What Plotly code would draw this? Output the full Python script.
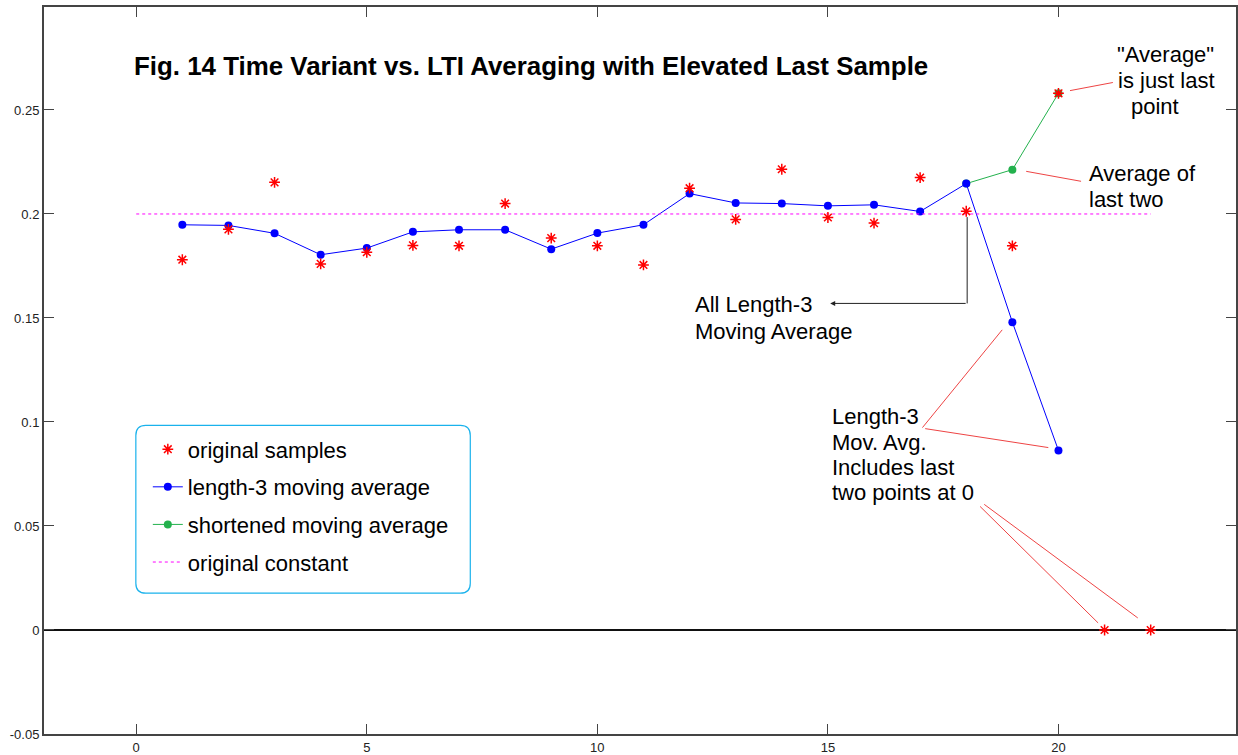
import plotly.graph_objects as go

# ---- data ----
sample_n = list(range(1, 23))
samples = [0.178, 0.1926, 0.2152, 0.176, 0.1816, 0.1849, 0.1847, 0.205, 0.1884,
           0.1847, 0.1755, 0.2124, 0.1974, 0.2215, 0.1983, 0.1956, 0.2175, 0.2013,
           0.1847, 0.258, 0.0, 0.0]

ma_n = list(range(1, 21))
ma3 = [0.1948, 0.1945, 0.1907, 0.1804, 0.1836, 0.1914, 0.1924, 0.1924, 0.1831,
       0.1908, 0.1948, 0.2098, 0.2053, 0.205, 0.2039, 0.2044, 0.2012, 0.2146,
       0.148, 0.0863]

short_n = [18, 19, 20]
short_ma = [0.2146, 0.2213, 0.258]

const_x = [0, 22]
const_y = [0.2, 0.2]

x_ticks = [0, 5, 10, 15, 20]
y_ticks = [-0.05, 0, 0.05, 0.1, 0.15, 0.2, 0.25]
y_ticklabels = ["-0.05", "0", "0.05", "0.1", "0.15", "0.2", "0.25"]

FONT = "Liberation Sans, Arial, sans-serif"
AX = "#444444"
LEAD = "#ee4444"

W, H = 1238, 755
L, R, T, B = 44, 0, 7, 20
XR = [-2, 23.85]
YR = [-0.05, 0.2995]
pw, ph = W - L - R, H - T - B


def dx(xp):  # pixel -> data x
    return XR[0] + (xp - L) / pw * (XR[1] - XR[0])


def dy(yp):  # pixel -> data y
    return YR[1] - (yp - T) / ph * (YR[1] - YR[0])


def px(xp):  # pixel -> paper x
    return (xp - L) / pw


def py(yp):  # pixel -> paper y
    return 1 - (yp - T) / ph


fig = go.Figure()

fig.add_trace(go.Scatter(
    x=short_n, y=short_ma, mode="lines+markers", name="shortened moving average",
    line=dict(color="#23b14d", width=1), marker=dict(color="#23b14d", size=8),
    legendrank=3, legendgroup="g3"))
fig.add_trace(go.Scatter(
    x=ma_n, y=ma3, mode="lines+markers", name="length-3 moving average",
    line=dict(color="#0000ff", width=1), marker=dict(color="#0000ff", size=8),
    legendrank=2, legendgroup="g2"))
fig.add_trace(go.Scatter(
    x=const_x, y=const_y, mode="lines", name="original constant",
    line=dict(color="#ff00ff", width=1, dash="3px,3px"),
    legendrank=4, legendgroup="g4"))
fig.add_trace(go.Scatter(
    x=sample_n, y=samples, mode="markers", name="original samples",
    marker=dict(symbol="asterisk-open", color="#ff0000", size=9,
                line=dict(color="#ff0000", width=1.5)),
    legendrank=1, legendgroup="g1"))

shapes = []
# leader lines (data coords)
for (x0, y0, x1, y1) in [
    (21.18, 0.2632, 20.25, 0.2593),
    (20.49, 0.2157, 19.30, 0.2205),
    (17.05, 0.0973, 18.78, 0.1443),
    (17.11, 0.0968, 19.78, 0.0877),
    (18.30, 0.0594, 20.86, 0.0034),
    (18.39, 0.0604, 21.72, 0.0058),
]:
    shapes.append(dict(type="line", xref="x", yref="y", x0=x0, y0=y0, x1=x1, y1=y1,
                       line=dict(color=LEAD, width=1)))
# black elbow connector (vertical part)
shapes.append(dict(type="line", xref="x", yref="y", x0=18.02, y0=0.1985, x1=18.02, y1=0.157,
                   line=dict(color="#222222", width=1)))
# rounded legend frame
x0, x1, y0, y1, r = 136, 471, 426, 594, 10
path = (f"M {px(x0+r)},{py(y0)} L {px(x1-r)},{py(y0)} "
        f"Q {px(x1)},{py(y0)} {px(x1)},{py(y0+r)} L {px(x1)},{py(y1-r)} "
        f"Q {px(x1)},{py(y1)} {px(x1-r)},{py(y1)} L {px(x0+r)},{py(y1)} "
        f"Q {px(x0)},{py(y1)} {px(x0)},{py(y1-r)} L {px(x0)},{py(y0+r)} "
        f"Q {px(x0)},{py(y0)} {px(x0+r)},{py(y0)} Z")
shapes.append(dict(type="path", xref="paper", yref="paper", path=path,
                   line=dict(color="#1ab2ec", width=1.2), layer="below"))

TXT = 22
annotations = [
    dict(text="<b>Fig. 14 Time Variant vs. LTI Averaging with Elevated Last Sample</b>",
         x=dx(132), y=dy(66), xref="x", yref="y", xanchor="left", yanchor="middle",
         showarrow=False, font=dict(family=FONT, size=25.9, color="#000000")),
    dict(text="", x=15.05, y=0.157, ax=18.02, ay=0.157, xref="x", yref="y",
         axref="x", ayref="y", showarrow=True, arrowhead=2, arrowsize=1,
         arrowwidth=1, arrowcolor="#222222", standoff=0, startstandoff=0),
]

text_lines = [
    ("\"Average\"", 1117, 55), ("is just last", 1118, 81), ("point", 1131, 107),
    ("Average of", 1089, 174), ("last two", 1089, 200),
    ("All Length-3", 694, 305), ("Moving Average", 694, 332),
    ("Length-3", 831, 417), ("Mov. Avg.", 831, 443),
    ("Includes last", 831, 468), ("two points at 0", 831, 493),
]
for t, xp, yp in text_lines:
    annotations.append(dict(text=t, x=dx(xp), y=dy(yp), xref="x", yref="y",
                            xanchor="left", yanchor="middle", showarrow=False,
                            font=dict(family=FONT, size=TXT, color="#000000")))

fig.update_layout(
    width=W, height=H,
    margin=dict(l=L, r=R, t=T, b=B, pad=0),
    paper_bgcolor="white", plot_bgcolor="white",
    font=dict(family=FONT, color="#222222", size=12),
    shapes=shapes, annotations=annotations,
    showlegend=True,
    legend=dict(x=px(148), y=py(429), xanchor="left", yanchor="top",
                bgcolor="rgba(0,0,0,0)", borderwidth=0,
                font=dict(family=FONT, size=TXT, color="#000000"),
                traceorder="grouped", tracegroupgap=6, itemwidth=30),
)
fig.update_xaxes(range=XR, tickvals=x_ticks, ticktext=[str(v) for v in x_ticks],
                 ticks="inside", ticklen=10, tickcolor=AX, tickwidth=1,
                 showline=True, linecolor=AX, linewidth=2, mirror="ticks",
                 showgrid=False, zeroline=False,
                 tickfont=dict(family=FONT, size=13, color="#222222"))
fig.update_yaxes(range=YR, tickvals=y_ticks, ticktext=y_ticklabels,
                 ticks="inside", ticklen=10, tickcolor=AX, tickwidth=1,
                 showline=True, linecolor=AX, linewidth=2, mirror="ticks",
                 showgrid=False, zeroline=True, zerolinecolor="#111111", zerolinewidth=1.5,
                 tickfont=dict(family=FONT, size=13, color="#222222"))

fig.write_html("out.html")
